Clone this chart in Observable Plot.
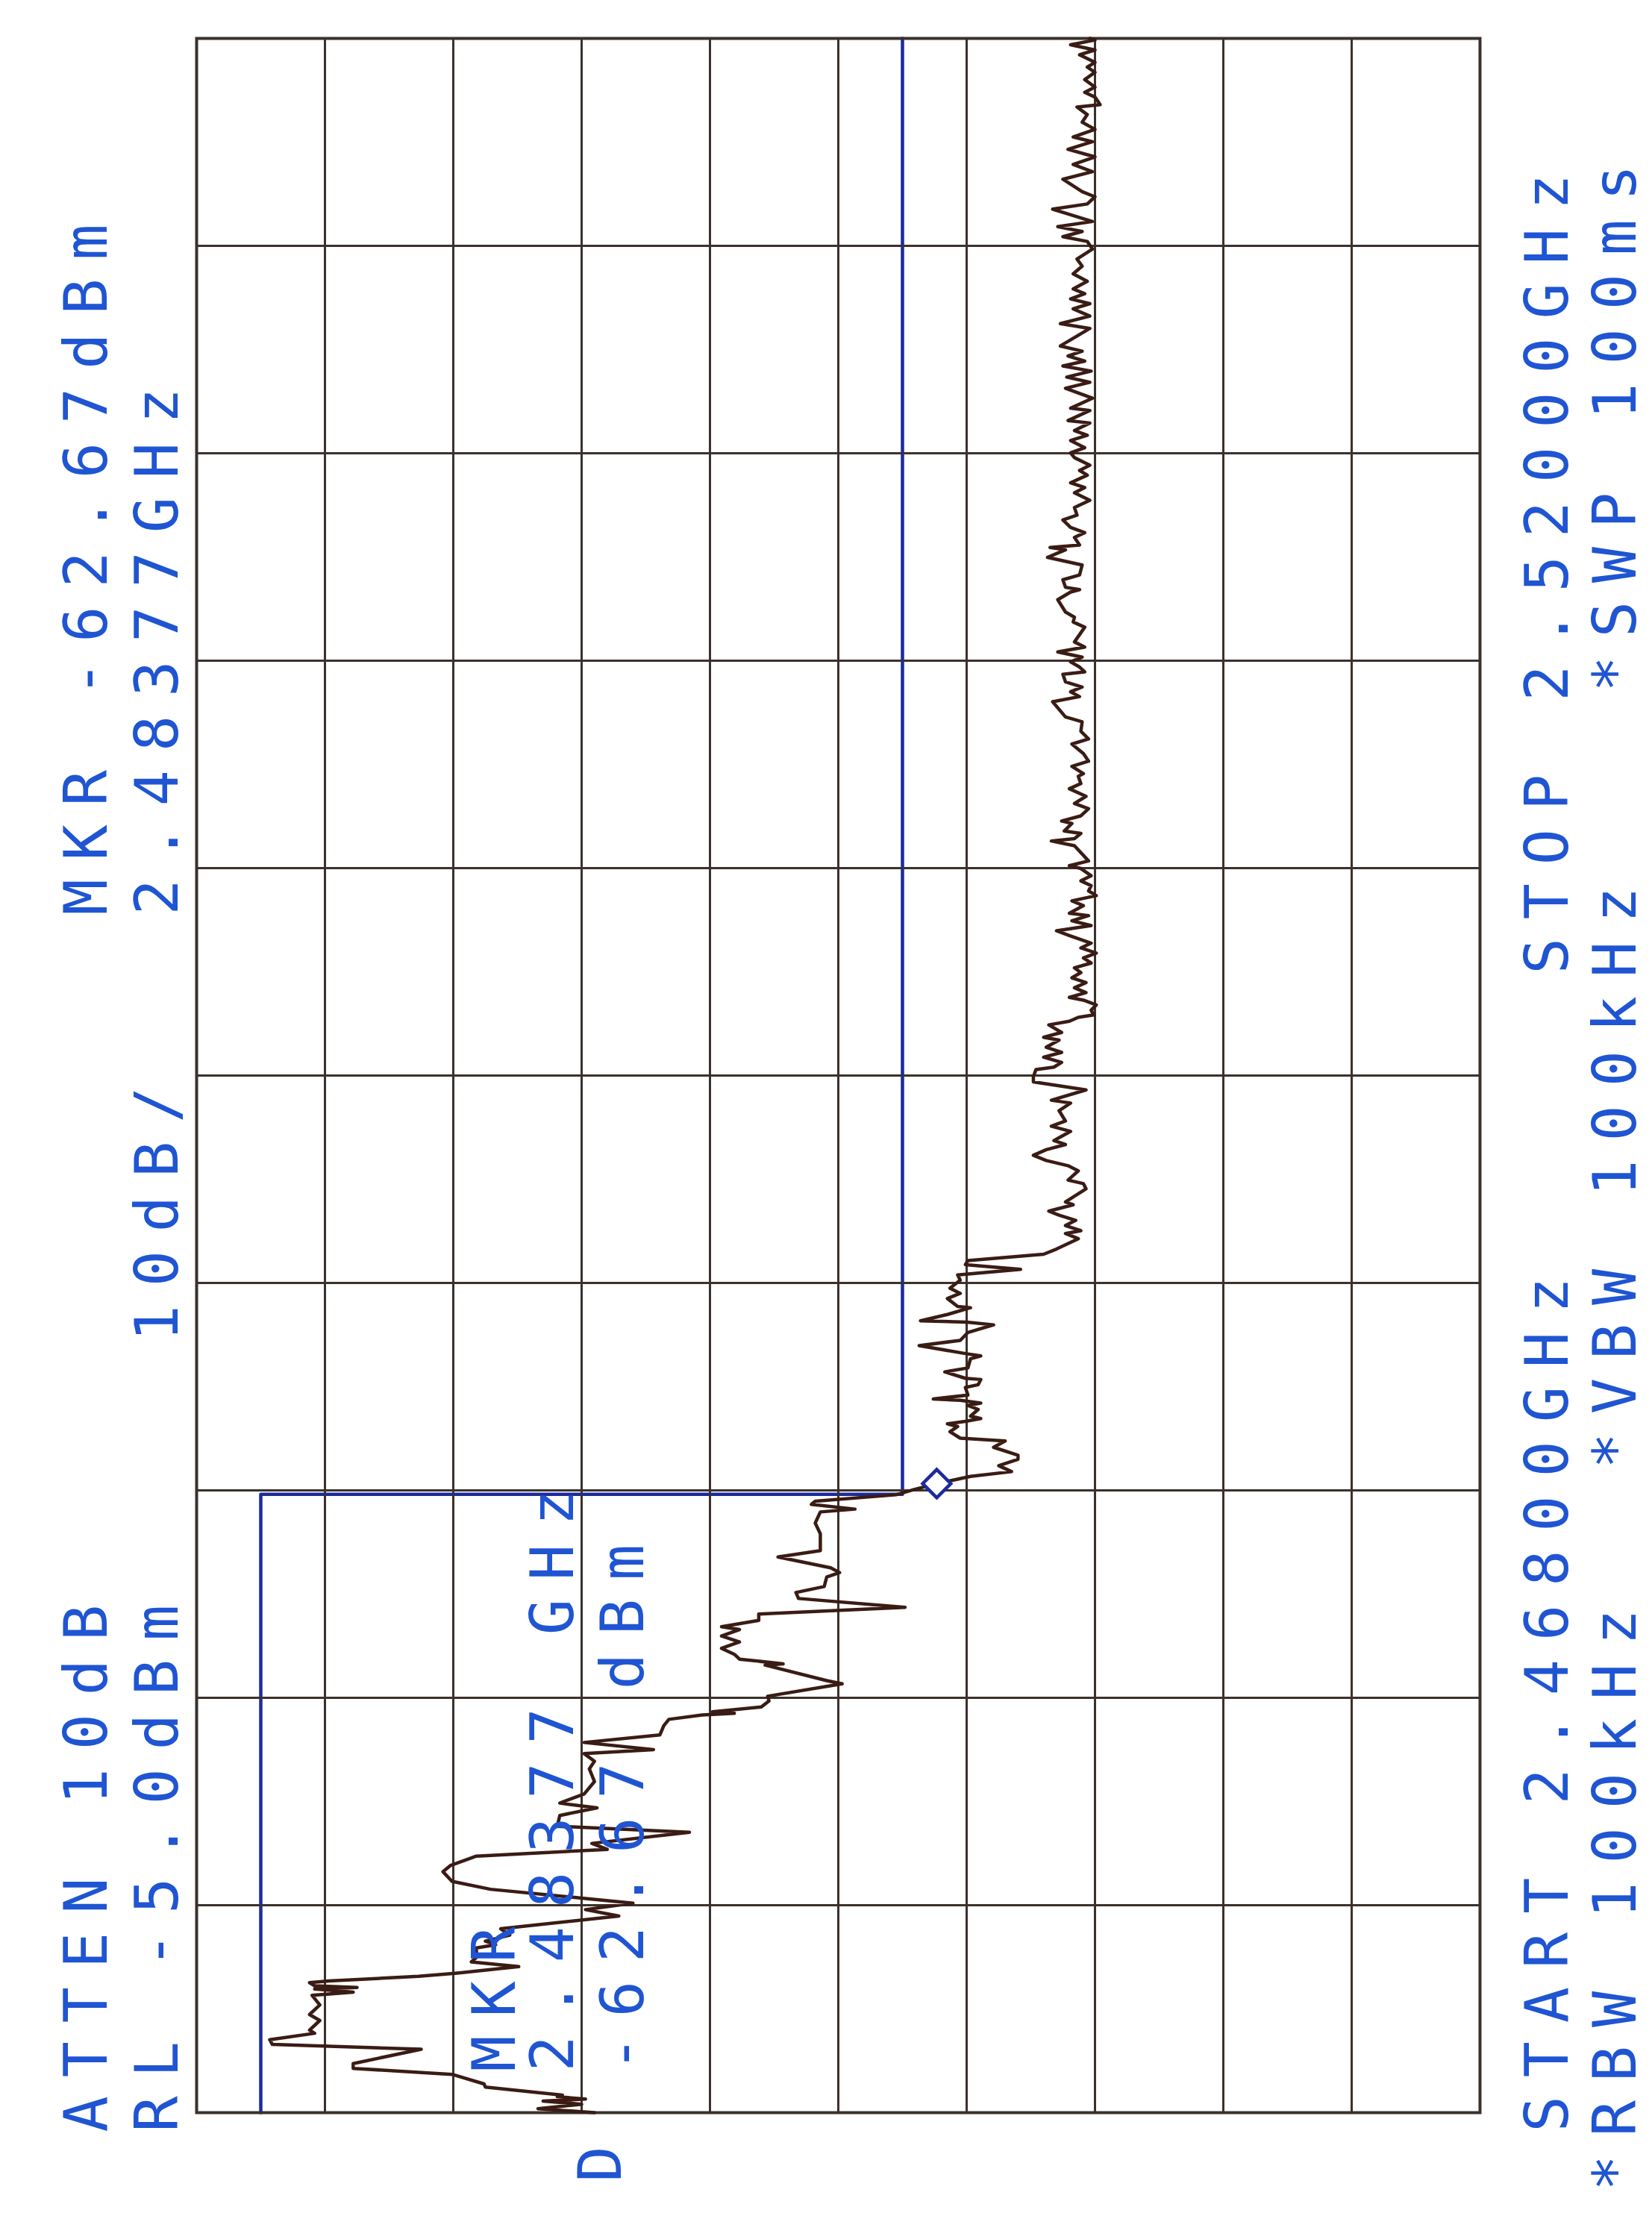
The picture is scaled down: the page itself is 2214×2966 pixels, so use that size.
<!DOCTYPE html>
<html>
<head>
<meta charset="utf-8">
<script src="https://cdn.jsdelivr.net/npm/d3@7"></script>
<script src="https://cdn.jsdelivr.net/npm/@observablehq/plot@0.6"></script>
<style>
  body { margin: 0; background: white; }
  #chart svg { display: block; }
</style>
</head>
<body>
<div id="chart"></div>
<script>
// Analizador de espectro: 2.468 - 2.520 GHz, RL -5 dBm, 10 dB/div
const startMHz = 2468
const stopMHz = 2520
const refLevel = -5
const dbPerDiv = 10

// traza (frecuencia en MHz, nivel en dBm)
const traceMHz = [
  2468.00, 2468.10, 2468.21, 2468.29, 2468.34, 2468.40, 2468.44, 2468.64, 2468.72, 2468.96,
  2469.11, 2469.23, 2469.59, 2469.71, 2469.83, 2469.99, 2470.07, 2470.31, 2470.46, 2470.70,
  2470.94, 2471.02, 2471.10, 2471.14, 2471.18, 2471.26, 2471.30, 2471.42, 2471.50, 2471.66,
  2471.78, 2471.89, 2472.13, 2472.21, 2472.30, 2472.45, 2472.61, 2472.93, 2473.09, 2473.25,
  2473.37, 2473.60, 2473.80, 2474.04, 2474.20, 2474.43, 2474.60, 2474.75, 2475.03, 2475.18,
  2475.45, 2475.64, 2475.76, 2475.99, 2476.30, 2476.62, 2476.81, 2477.00, 2477.10, 2477.28,
  2477.47, 2477.70, 2477.86, 2477.97, 2478.01, 2478.05, 2478.17, 2478.32, 2478.44, 2478.75,
  2478.83, 2479.22, 2479.25, 2479.37, 2479.49, 2479.64, 2479.80, 2479.95, 2480.11, 2480.18,
  2480.34, 2480.50, 2480.67, 2480.89, 2481.04, 2481.19, 2481.43, 2481.54, 2481.66, 2481.93,
  2482.09, 2482.51, 2482.78, 2483.06, 2483.13, 2483.25, 2483.33, 2483.49, 2483.62, 2483.77,
  2483.95, 2484.07, 2484.22, 2484.38, 2484.48, 2484.68, 2484.84, 2484.91, 2485.07, 2485.20,
  2485.27, 2485.33, 2485.40, 2485.46, 2485.63, 2485.73, 2485.79, 2485.86, 2485.89, 2485.99,
  2486.18, 2486.25, 2486.38, 2486.41, 2486.57, 2486.67, 2486.90, 2486.97, 2487.03, 2487.23,
  2487.36, 2487.56, 2487.75, 2487.82, 2487.85, 2488.01, 2488.18, 2488.21, 2488.41, 2488.54,
  2488.67, 2488.87, 2489.00, 2489.14, 2489.26, 2489.36, 2489.52, 2489.65, 2489.91, 2490.04,
  2490.11, 2490.24, 2490.37, 2490.50, 2490.60, 2490.76, 2490.83, 2491.16, 2491.29, 2491.38,
  2491.61, 2491.74, 2491.87, 2492.00, 2492.14, 2492.27, 2492.37, 2492.60, 2492.73, 2492.86,
  2493.12, 2493.31, 2493.38, 2493.64, 2493.84, 2493.97, 2494.15, 2494.21, 2494.33, 2494.46,
  2494.58, 2494.71, 2494.89, 2494.96, 2495.08, 2495.27, 2495.36, 2495.46, 2495.52, 2495.64,
  2495.77, 2495.89, 2495.96, 2496.08, 2496.20, 2496.33, 2496.45, 2496.58, 2496.70, 2496.82,
  2496.95, 2497.07, 2497.20, 2497.32, 2497.51, 2497.63, 2497.76, 2497.88, 2498.01, 2498.07,
  2498.26, 2498.38, 2498.51, 2498.63, 2498.76, 2498.88, 2499.01, 2499.19, 2499.26, 2499.38,
  2499.76, 2499.88, 2499.94, 2500.07, 2500.13, 2500.32, 2500.38, 2500.51, 2500.69, 2500.82,
  2501.00, 2501.19, 2501.32, 2501.50, 2501.57, 2501.75, 2501.88, 2502.07, 2502.31, 2502.44,
  2502.63, 2502.87, 2502.99, 2503.37, 2503.50, 2503.62, 2503.74, 2503.87, 2504.06, 2504.12,
  2504.24, 2504.37, 2504.49, 2504.62, 2504.74, 2504.87, 2505.24, 2505.37, 2505.49, 2505.62,
  2505.93, 2506.12, 2506.18, 2506.24, 2506.43, 2506.55, 2506.80, 2506.99, 2507.18, 2507.24,
  2507.30, 2507.49, 2507.61, 2507.74, 2507.93, 2508.05, 2508.24, 2508.42, 2508.61, 2508.74,
  2508.86, 2509.05, 2509.17, 2509.30, 2509.49, 2509.61, 2509.74, 2509.92, 2510.05, 2510.17,
  2510.36, 2510.42, 2510.67, 2510.73, 2510.98, 2511.23, 2511.38, 2511.51, 2511.66, 2511.79,
  2511.91, 2512.04, 2512.16, 2512.29, 2512.54, 2512.73, 2512.85, 2513.04, 2513.22, 2513.35,
  2513.47, 2513.60, 2513.72, 2513.91, 2514.10, 2514.29, 2514.47, 2514.72, 2514.91, 2515.03,
  2515.16, 2515.28, 2515.41, 2515.72, 2515.85, 2516.03, 2516.16, 2516.47, 2516.66, 2516.84,
  2517.03, 2517.22, 2517.41, 2517.53, 2517.72, 2517.90, 2518.09, 2518.28, 2518.34, 2518.53,
  2518.65, 2518.78, 2518.97, 2519.15, 2519.28, 2519.40, 2519.59, 2519.71, 2519.84, 2519.96,
  2520.00
]
const traceDbm = [
  -36.0, -31.6, -35.0, -32.0, -35.3, -33.1, -33.5, -27.5, -27.4, -24.9,
  -17.2, -17.2, -22.5, -10.9, -10.7, -14.2, -13.8, -14.6, -13.8, -14.6,
  -14.0, -17.2, -14.2, -17.5, -14.2, -13.8, -15.3, -22.3, -25.3, -30.1,
  -26.4, -26.8, -26.8, -28.3, -27.5, -29.4, -28.7, -37.9, -35.3, -39.0,
  -35.3, -27.9, -24.9, -24.2, -24.8, -26.8, -37.0, -35.8, -43.4, -33.1,
  -33.3, -36.2, -33.3, -35.2, -36.0, -35.6, -36.0, -35.2, -40.6, -35.2,
  -41.1, -41.4, -41.8, -44.4, -46.9, -45.2, -49.0, -49.6, -49.5, -55.3,
  -54.1, -49.3, -50.7, -47.3, -46.9, -45.9, -47.3, -45.9, -47.3, -45.9,
  -48.8, -48.8, -60.2, -51.9, -51.7, -53.9, -54.1, -55.1, -54.4, -50.3,
  -53.6, -53.6, -53.2, -53.6, -56.3, -52.9, -53.2, -59.5, -60.9, -62.7,
  -65.3, -68.5, -67.5, -69.0, -69.0, -67.1, -68.0, -64.5, -63.7, -64.3,
  -63.5, -64.9, -66.1, -65.3, -65.9, -65.1, -66.1, -64.5, -62.4, -65.1,
  -64.9, -65.9, -66.1, -64.9, -63.3, -65.1, -65.3, -66.1, -64.9, -61.3,
  -64.5, -65.1, -67.1, -65.0, -61.4, -63.5, -65.3, -64.3, -63.5, -64.5,
  -63.7, -64.5, -64.3, -69.2, -64.9, -65.1, -71.0, -72.0, -73.7, -72.7,
  -73.9, -72.7, -73.5, -72.2, -71.4, -73.3, -72.7, -74.3, -74.1, -72.9,
  -73.7, -72.9, -71.2, -70.2, -71.2, -72.7, -71.8, -73.1, -71.6, -72.7,
  -72.2, -73.1, -71.6, -74.3, -70.2, -70.2, -70.4, -71.8, -72.4, -71.0,
  -72.4, -71.2, -72.2, -71.0, -72.4, -71.4, -73.0, -73.7, -74.9, -74.7,
  -75.1, -74.1, -73.0, -74.3, -73.4, -74.3, -73.2, -73.9, -73.4, -74.7,
  -74.1, -75.1, -73.9, -74.7, -73.0, -72.0, -74.7, -73.2, -74.5, -73.0,
  -74.1, -73.2, -75.1, -74.5, -74.7, -73.9, -74.7, -73.9, -73.0, -74.5,
  -73.4, -71.6, -73.4, -73.9, -72.6, -73.2, -72.4, -73.9, -74.5, -73.4,
  -74.3, -73.0, -73.9, -73.7, -74.1, -73.2, -74.5, -74.1, -73.2, -74.5,
  -73.9, -74.0, -72.7, -71.7, -73.8, -73.1, -74.0, -72.7, -72.5, -74.2,
  -73.8, -73.1, -74.0, -72.1, -74.2, -73.4, -74.2, -73.3, -73.4, -72.7,
  -72.1, -73.1, -73.8, -72.7, -72.5, -73.8, -74.0, -71.3, -72.7, -71.5,
  -73.8, -73.4, -74.2, -73.1, -72.5, -73.6, -73.4, -74.6, -73.4, -74.2,
  -73.1, -74.4, -73.8, -74.6, -73.4, -73.1, -74.2, -73.1, -74.4, -73.4,
  -74.6, -72.9, -74.6, -73.1, -74.8, -72.7, -74.6, -72.8, -74.7, -72.5,
  -74.2, -72.9, -74.0, -72.3, -73.6, -74.6, -72.3, -74.6, -73.3, -74.6,
  -73.1, -74.2, -73.3, -74.4, -73.3, -74.0, -73.6, -74.8, -74.4, -72.5,
  -74.0, -72.1, -74.8, -71.7, -74.4, -75.0, -74.0, -72.5, -74.8, -73.3,
  -75.0, -72.9, -74.8, -73.3, -75.0, -74.0, -74.4, -73.6, -75.4, -75.0,
  -74.2, -75.0, -74.2, -75.0, -74.4, -75.0, -73.8, -75.0, -73.1, -75.0,
  -74.6
]

// linea limite (azul)
const limitMHz = [2468, 2483.5, 2483.5, 2520]
const limitDbm = [-10, -10, -60, -60]

// marcador
const markerMHz = 2483.77
const markerDbm = -62.67

// textos de la pantalla
const topLine1 = ["ATTEN 10dB", "MKR -62.67dBm"]
const topLine2 = ["RL -5.0dBm", "10dB/", "2.48377GHz"]
const bottomLine1 = ["START 2.46800GHz", "STOP 2.52000GHz"]
const bottomLine2 = ["*RBW 100kHz", "*VBW 100kHz", "*SWP 100ms"]
const markerText = ["MKR", "2.48377 GHz", "-62.67 dBm"]
const detectorText = "D"

const trace = traceMHz.map((f, i) => ({f, l: traceDbm[i]}))
const limit = limitMHz.map((f, i) => ({f, l: limitDbm[i]}))

const blueText = "#1f55d2"
const blueLine = "#1c2a9c"
const gridColor = "#3b312c"
const traceColor = "#3a1c14"

// todas las etiquetas van giradas -90 (se leen de abajo hacia arriba)
function label(t, dx, dy) {
  return Plot.text([t], {
    text: d => d,
    frameAnchor: "bottom-left",
    dx: dx,
    dy: dy,
    rotate: -90,
    textAnchor: "start",
    lineAnchor: "middle",
    fill: blueText,
    fontSize: 80,
    fontFamily: "DejaVu Sans Mono"
  })
}

let chart = Plot.plot({
  width: 2214,
  height: 2966,
  marginLeft: 263,
  marginRight: 231,
  marginTop: 51,
  marginBottom: 135,
  x: {domain: [refLevel, refLevel - 10 * dbPerDiv], axis: null},
  y: {domain: [startMHz, stopMHz], axis: null},
  marks: [
    Plot.line(limit, {x: "l", y: "f", stroke: blueLine, strokeWidth: 4.5}),
    Plot.gridX(d3.range(0, 11).map(i => refLevel - i * dbPerDiv), {stroke: gridColor, strokeOpacity: 1, strokeWidth: 3}),
    Plot.gridY(d3.range(0, 11).map(i => startMHz + i * (stopMHz - startMHz) / 10), {stroke: gridColor, strokeOpacity: 1, strokeWidth: 3}),
    Plot.frame({stroke: gridColor, strokeWidth: 4}),
    Plot.line(trace, {x: "l", y: "f", stroke: traceColor, strokeWidth: 4.5, strokeLinejoin: "round"}),
    Plot.dot([{f: markerMHz, l: markerDbm}], {x: "l", y: "f", symbol: "diamond2", r: 17, stroke: blueLine, fill: "white", strokeWidth: 4.5}),

    label(topLine1[0], -146, 26),
    label(topLine1[1], -146, -1605),
    label(topLine2[0], -51, 26),
    label(topLine2[1], -51, -1034),
    label(topLine2[2], -51, -1605),

    label(bottomLine1[0], 1812, 26),
    label(bottomLine1[1], 1812, -1526),
    label(bottomLine2[0], 1903, 105),
    label(bottomLine2[1], 1903, -863),
    label(bottomLine2[2], 1903, -1904),

    label(markerText[0], 401, -55),
    label(markerText[1], 479, -55),
    label(markerText[2], 573, -55),
    label(detectorText, 543, 93)
  ]
})

d3.select(chart).selectAll("text").attr("letter-spacing", "25px")
d3.select('#chart').append(() => chart)
</script>
</body>
</html>
